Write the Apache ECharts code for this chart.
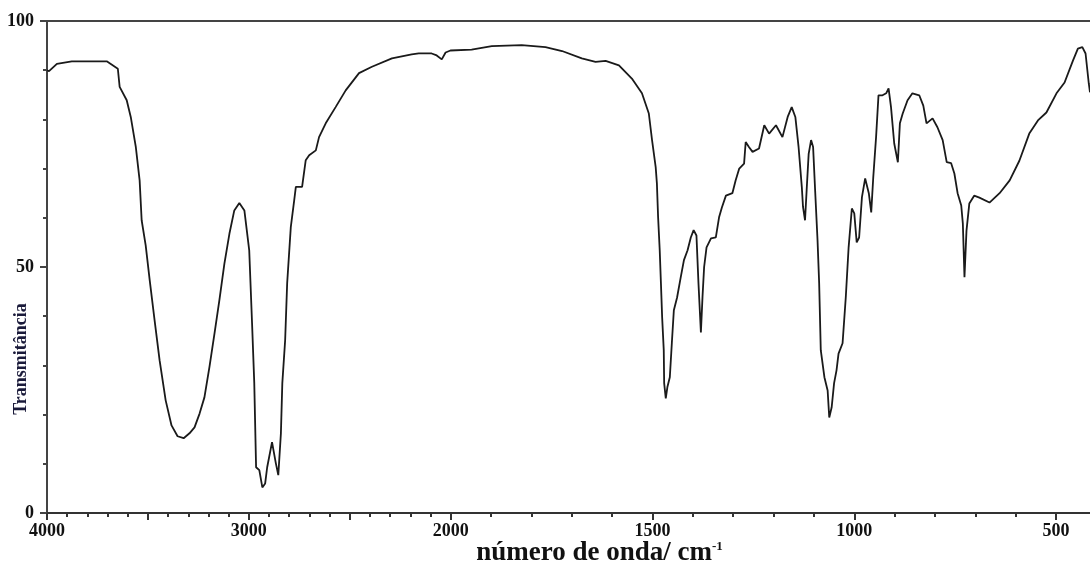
<!DOCTYPE html>
<html>
<head>
<meta charset="utf-8">
<script src="https://cdn.jsdelivr.net/npm/echarts@6/dist/echarts.min.js"></script>
<style>
  html, body { margin: 0; padding: 0; background: #fff; }
  #chart { width: 1090px; height: 566px; }
</style>
</head>
<body>
<div id="chart"></div>
<script>
// IR spectrum, wavenumber (cm-1) vs transmittance (%)
const wavenumbers = [
  4000, 3990, 3951, 3877, 3704, 3649, 3640, 3605, 3585, 3560, 3541, 3531,
  3511, 3491, 3467, 3442, 3412, 3383, 3353, 3323, 3294, 3269, 3244, 3220,
  3195, 3170, 3146, 3121, 3096, 3072, 3047, 3022, 2998, 2984, 2973, 2964,
  2948, 2933, 2919, 2909, 2885, 2866, 2854, 2841, 2834, 2820, 2810, 2792,
  2775, 2767, 2736, 2718, 2701, 2668, 2652, 2619, 2570, 2520, 2454, 2390,
  2291, 2193, 2158, 2094, 2069, 2044, 2025, 2001, 1948, 1898, 1824, 1765,
  1724, 1675, 1641, 1616, 1583, 1551, 1526, 1509, 1501, 1492, 1489, 1486,
  1482, 1479, 1476, 1472, 1471, 1467, 1463, 1457, 1452, 1447, 1439, 1430,
  1422, 1413, 1405, 1398, 1391, 1386, 1380, 1376, 1372, 1366, 1355, 1343,
  1335, 1328, 1318, 1302, 1294, 1285, 1273, 1269, 1261, 1252, 1236, 1223,
  1211, 1194, 1178, 1165, 1155, 1146, 1138, 1130, 1127, 1122, 1118, 1113,
  1107, 1102, 1097, 1091, 1087, 1083, 1074, 1066, 1062, 1056, 1050, 1044,
  1039, 1029, 1021, 1014, 1006, 1000, 994, 988, 981, 973, 964, 958,
  953, 946, 940, 930, 921, 915, 909, 901, 892, 887, 880, 868,
  856, 839, 829, 821, 806, 794, 781, 771, 760, 752, 744, 735,
  731, 727, 722, 715, 703, 690, 665, 640, 615, 591, 566, 545,
  524, 499, 479, 458, 446, 435, 427, 419, 416
];
const transmittance = [
  90.0, 89.8, 91.3, 91.8, 91.8, 90.3, 86.6, 83.9, 80.5, 74.4, 67.6, 59.5,
  54.4, 47.3, 39.2, 31.0, 22.9, 17.8, 15.6, 15.2, 16.2, 17.4, 20.2, 23.5,
  29.7, 36.5, 43.2, 50.7, 56.8, 61.5, 63.0, 61.5, 53.4, 38.6, 26.4, 9.3,
  8.7, 5.2, 6.0, 9.3, 14.4, 10.1, 7.7, 16.2, 26.4, 35.1, 46.7, 58.1,
  63.6, 66.3, 66.3, 71.7, 72.7, 73.7, 76.4, 79.2, 82.5, 85.9, 89.4, 90.7,
  92.4, 93.2, 93.4, 93.4, 93.0, 92.2, 93.6, 94.0, 94.2, 94.9, 95.1, 94.7,
  93.9, 92.4, 91.7, 91.9, 91.0, 88.3, 85.3, 81.2, 75.8, 70.3, 67.0, 60.1,
  53.4, 46.7, 39.8, 33.1, 26.4, 23.3, 25.6, 27.6, 34.5, 41.2, 43.8, 47.9,
  51.4, 53.4, 56.0, 57.5, 56.4, 46.7, 36.7, 43.9, 50.0, 54.0, 55.8, 56.0,
  60.1, 62.1, 64.5, 65.0, 67.6, 70.0, 71.0, 75.4, 74.4, 73.4, 74.1, 78.8,
  77.1, 78.8, 76.4, 80.5, 82.5, 80.5, 74.4, 66.3, 62.2, 59.5, 65.6, 73.0,
  75.8, 74.4, 65.6, 55.4, 46.7, 33.1, 27.6, 24.9, 19.4, 21.5, 26.4, 29.0,
  32.4, 34.5, 43.9, 54.0, 61.9, 60.9, 55.0, 56.0, 64.2, 68.0, 65.0, 61.1,
  68.2, 76.4, 84.9, 84.9, 85.3, 86.3, 82.5, 75.1, 71.3, 79.2, 81.2, 83.9,
  85.3, 84.9, 82.8, 79.2, 80.2, 78.4, 75.8, 71.3, 71.1, 69.0, 65.0, 62.5,
  58.8, 47.9, 57.4, 62.9, 64.5, 64.1, 63.1, 65.0, 67.6, 71.6, 77.2, 79.8,
  81.4, 85.3, 87.5, 92.0, 94.4, 94.7, 93.4, 87.3, 85.5
];

const xLabelValues = [4000, 3000, 2000, 1500, 1000, 500];
const xMajorTicks = [4000, 3500, 3000, 2500, 2000, 1500, 1000, 500];
const xMinorTicks = [];
for (let w = 4000; w >= 500; w -= 100) xMinorTicks.push(w);

// spectrometer scale: above 2000 cm-1 the axis is compressed by half
function toAxis(w) { return w >= 2000 ? (4000 - w) / 2 : 1000 + (2000 - w); }
function fromAxis(u) { return u <= 1000 ? 4000 - 2 * u : 2000 - (u - 1000); }

const axisMax = 2584; // ~416 cm-1 at the right edge
const ink = '#1a1a1a';
const serif = 'Liberation Serif, Times New Roman, serif';

const chart = echarts.init(document.getElementById('chart'));

chart.setOption({
  animation: false,
  grid: { left: 47, right: 0, top: 21, bottom: 53, outerBoundsMode: 'none', containLabel: false },
  xAxis: [
    {
      type: 'value', min: 0, max: axisMax, position: 'bottom',
      axisLine: { show: true, lineStyle: { color: '#333', width: 2 } },
      axisTick: { show: true, length: 7, customValues: xMajorTicks.map(toAxis), lineStyle: { color: '#333', width: 2 } },
      axisLabel: {
        customValues: xLabelValues.map(toAxis),
        formatter: (u) => String(Math.round(fromAxis(u))),
        color: '#111', fontFamily: serif, fontWeight: 'bold', fontSize: 18, margin: 9
      },
      splitLine: { show: false },
      name: 'número de onda/ cm{sup|-1}',
      nameLocation: 'middle',
      nameMoveOverlap: false,
      nameGap: 27,
      nameTextStyle: {
        color: '#111', fontFamily: serif, fontWeight: 'bold', fontSize: 27,
        padding: [0, 0, 0, 62],
        rich: { sup: { fontFamily: serif, fontWeight: 'bold', fontSize: 13, color: '#111', verticalAlign: 'top', padding: [0, 0, 11, 0] } }
      }
    },
    {
      type: 'value', min: 0, max: axisMax, position: 'bottom',
      axisLine: { show: false },
      axisTick: { show: true, length: 4, customValues: xMinorTicks.map(toAxis), lineStyle: { color: '#333', width: 2 } },
      axisLabel: { show: false },
      splitLine: { show: false }
    },
    {
      type: 'value', min: 0, max: axisMax, position: 'top',
      axisLine: { show: true, lineStyle: { color: '#444', width: 2 } },
      axisTick: { show: false },
      axisLabel: { show: false },
      splitLine: { show: false }
    }
  ],
  yAxis: [
    {
      type: 'value', min: 0, max: 100, interval: 50, position: 'left',
      axisLine: { show: true, lineStyle: { color: '#444', width: 2 } },
      axisTick: { show: true, length: 7, lineStyle: { color: '#444', width: 2 } },
      axisLabel: { color: '#111', fontFamily: serif, fontWeight: 'bold', fontSize: 18, margin: 13 },
      splitLine: { show: false },
      name: 'Transmitância',
      nameLocation: 'middle',
      nameMoveOverlap: false,
      nameRotate: 90,
      nameGap: 17,
      nameTextStyle: { color: '#1a1a3a', fontFamily: serif, fontWeight: 'bold', fontSize: 18, padding: [0, 184, 0, 0] }
    },
    {
      type: 'value', min: 0, max: 100, interval: 10, position: 'left', offset: 0,
      axisLine: { show: false },
      axisTick: { show: true, length: 4, lineStyle: { color: '#444', width: 2 } },
      axisLabel: { show: false },
      splitLine: { show: false }
    }
  ],
  series: [
    {
      type: 'line',
      xAxisIndex: 0,
      yAxisIndex: 0,
      showSymbol: false,
      lineStyle: { color: ink, width: 1.8 },
      data: wavenumbers.map((w, i) => [toAxis(w), transmittance[i]])
    }
  ]
});
</script>
</body>
</html>
